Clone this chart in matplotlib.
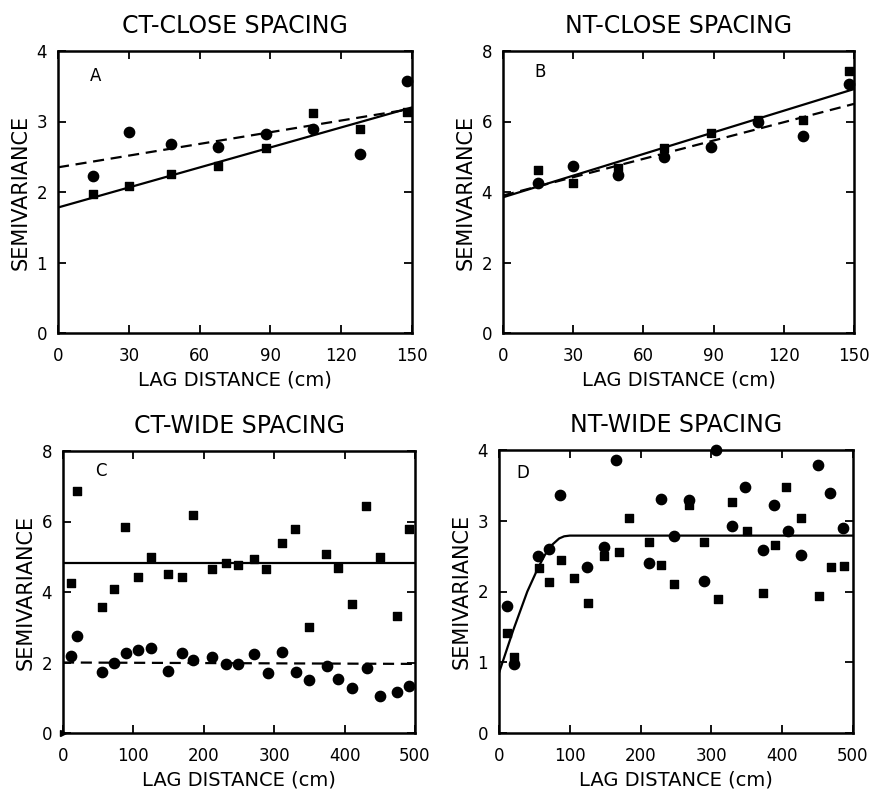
import numpy as np
import matplotlib.pyplot as plt

# Панель A: CT - малый шаг
lag_a = [15, 30, 48, 68, 88, 108, 128, 148]
circ_a = [2.22, 2.85, 2.68, 2.64, 2.82, 2.89, 2.54, 3.57]
sq_a = [1.97, 2.08, 2.26, 2.37, 2.63, 3.12, 2.89, 3.14]
solid_a_x = [0, 150]
solid_a_y = [1.78, 3.20]
dash_a_x = [0, 150]
dash_a_y = [2.35, 3.18]

# Панель B: NT - малый шаг
lag_b = [15, 30, 49, 69, 89, 109, 128, 148]
circ_b = [4.25, 4.74, 4.48, 4.98, 5.27, 5.99, 5.59, 7.06]
sq_b = [4.62, 4.26, 4.67, 5.24, 5.66, 6.04, 6.04, 7.43]
solid_b_x = [0, 150]
solid_b_y = [3.85, 6.92]
dash_b_x = [0, 150]
dash_b_y = [3.90, 6.50]

# Панель C: CT - большой шаг
lag_c_sq = [11, 20, 55, 72, 88, 107, 125, 149, 169, 185, 212, 231, 248,
            272, 289, 311, 330, 350, 374, 391, 411, 431, 450, 474, 491]
sq_c = [4.26, 6.87, 3.58, 4.09, 5.85, 4.43, 4.98, 4.51, 4.43, 6.18, 4.64,
        4.83, 4.77, 4.93, 4.64, 5.40, 5.78, 3.02, 5.08, 4.67, 3.65, 6.44,
        5.00, 3.32, 5.78]
lag_c_circ = [11, 20, 55, 72, 90, 107, 125, 149, 169, 185, 212, 231, 248,
              272, 291, 311, 331, 350, 375, 391, 411, 432, 450, 475, 492]
circ_c = [2.18, 2.76, 1.74, 1.99, 2.26, 2.35, 2.42, 1.76, 2.26, 2.07,
          2.15, 1.96, 1.96, 2.23, 1.69, 2.31, 1.72, 1.50, 1.91, 1.52, 1.27,
          1.83, 1.06, 1.15, 1.34]
solid_c_x = [0, 500]
solid_c_y = [4.81, 4.81]
dash_c_x = [0, 500]
dash_c_y = [2.00, 1.96]

# Панель D: NT - большой шаг
lag_d_circ = [12, 21, 55, 71, 86, 124, 149, 165, 212, 229, 247, 269, 289,
              307, 329, 348, 373, 388, 408, 427, 450, 467, 486]
circ_d = [1.80, 0.97, 2.50, 2.60, 3.36, 2.35, 2.63, 3.86, 2.40, 3.31, 2.78,
          3.29, 2.15, 4.00, 2.92, 3.48, 2.59, 3.22, 2.85, 2.52, 3.79, 3.39,
          2.90]
lag_d_sq = [11, 21, 56, 71, 87, 106, 125, 149, 169, 184, 212, 229, 247, 269,
            289, 310, 329, 350, 373, 390, 406, 427, 452, 469, 487]
sq_d = [1.41, 1.07, 2.33, 2.13, 2.45, 2.19, 1.84, 2.50, 2.56, 3.04, 2.70,
        2.37, 2.10, 3.22, 2.70, 1.90, 3.27, 2.86, 1.98, 2.66, 3.47, 3.04,
        1.93, 2.35, 2.36]
model_d_x = [0, 20, 40, 55, 65, 75, 85, 92, 100, 500]
model_d_y = [0.85, 1.45, 2.00, 2.33, 2.52, 2.66, 2.75, 2.78, 2.79, 2.79]

W, H = 873, 795
fig = plt.figure(figsize=(W / 100, H / 100), dpi=100)


def make_axes(box, title, letter, letter_pos, xmax, xstep, ymax, ystep):
    l, t, r, b = box
    ax = fig.add_axes([l / W, 1 - b / H, (r - l) / W, (b - t) / H])
    ax.set_xlim(0, xmax)
    ax.set_ylim(0, ymax)
    ax.set_xticks(np.arange(0, xmax + 1, xstep))
    ax.set_yticks(np.arange(0, ymax + 0.01, ystep))
    ax.tick_params(direction='in', top=True, right=True, length=6, width=1.3,
                   labelsize=12, pad=8)
    ax.tick_params(axis='x', pad=10)
    for sp in ax.spines.values():
        sp.set_linewidth(1.8)
    ax.set_title(title, fontsize=17, pad=13)
    ax.set_xlabel('LAG DISTANCE (cm)', fontsize=14, labelpad=4)
    ax.set_ylabel('SEMIVARIANCE', fontsize=15, labelpad=4)
    ax.text(letter_pos[0], letter_pos[1], letter, transform=ax.transAxes,
            fontsize=12, ha='center', va='center')
    return ax


def draw_points(ax, xc, yc, xs, ys):
    ax.scatter(xc, yc, marker='o', s=55, color='black', clip_on=False, zorder=3)
    ax.scatter(xs, ys, marker='s', s=38, color='black', clip_on=False, zorder=3)


ax_a = make_axes((58, 51, 412, 333), 'CT-CLOSE SPACING', 'A', (0.105, 0.91), 150, 30, 4, 1)
draw_points(ax_a, lag_a, circ_a, lag_a, sq_a)
ax_a.plot(solid_a_x, solid_a_y, color='black', lw=1.6)
ax_a.plot(dash_a_x, dash_a_y, color='black', lw=1.6, dashes=(5, 3))

ax_b = make_axes((503, 51, 854, 333), 'NT-CLOSE SPACING', 'B', (0.105, 0.927), 150, 30, 8, 2)
draw_points(ax_b, lag_b, circ_b, lag_b, sq_b)
ax_b.plot(solid_b_x, solid_b_y, color='black', lw=1.6)
ax_b.plot(dash_b_x, dash_b_y, color='black', lw=1.6, dashes=(5, 3))

ax_c = make_axes((63, 451, 415, 733), 'CT-WIDE SPACING', 'C', (0.108, 0.93), 500, 100, 8, 2)
draw_points(ax_c, lag_c_circ, circ_c, lag_c_sq, sq_c)
ax_c.plot(solid_c_x, solid_c_y, color='black', lw=1.6)
ax_c.plot(dash_c_x, dash_c_y, color='black', lw=1.6, dashes=(5, 3))
# маленькая метка в начале координат
ax_c.plot([0], [0], marker='>', ms=5, color='black', clip_on=False)

ax_d = make_axes((499, 450, 853, 733), 'NT-WIDE SPACING', 'D', (0.068, 0.92), 500, 100, 4, 1)
draw_points(ax_d, lag_d_circ, circ_d, lag_d_sq, sq_d)
ax_d.plot(model_d_x, model_d_y, color='black', lw=1.6)

fig.savefig('out.png', dpi=100)
